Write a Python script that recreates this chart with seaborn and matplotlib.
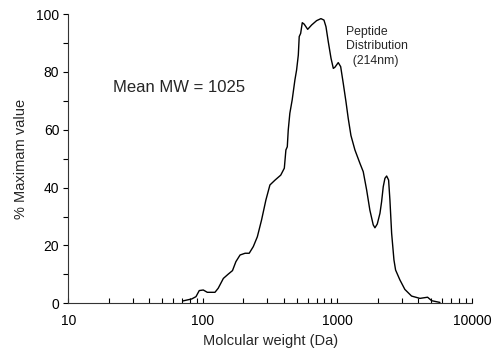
import matplotlib
matplotlib.use("Agg")
import matplotlib.pyplot as plt
import seaborn as sns
import pandas as pd
from matplotlib.ticker import LogLocator, FixedLocator, NullFormatter

mw = [70.8, 82.6, 88.9, 94, 100.7, 107.9, 123, 130, 142, 154.5, 166, 176, 189, 206, 221,
      237, 254, 273, 294, 315, 344, 379, 403, 414, 424, 431, 443, 461, 483, 497, 512, 520,
      533, 548, 566, 601, 643, 700, 754, 794, 822, 855, 896, 932, 958, 1014, 1057, 1105,
      1157, 1203, 1260, 1349, 1469, 1555, 1648, 1742, 1845, 1900, 1977, 2070, 2129, 2190,
      2254, 2321, 2400, 2455, 2528, 2630, 2705, 2911, 3170, 3556, 4102, 4677, 5012, 5781]
pct = [0.8, 1.5, 2.3, 4.4, 4.6, 3.8, 3.8, 5.2, 8.6, 10.1, 11.3, 14.4, 16.7, 17.3, 17.3,
       19.6, 23.0, 28.8, 35.7, 40.9, 42.6, 44.3, 46.7, 53.0, 54.1, 59.9, 65.7, 70.3, 77.2,
       80.6, 85.8, 92.2, 93.3, 97.0, 96.5, 94.7, 96.2, 97.7, 98.4, 97.9, 95.6, 90.4, 84.7,
       81.2, 81.6, 83.2, 81.8, 76.0, 69.7, 63.9, 58.0, 53.0, 48.4, 45.5, 39.2, 32.2, 27.1,
       26.1, 27.4, 31.1, 35.1, 40.3, 43.2, 44.0, 42.6, 35.7, 24.2, 15.0, 11.5, 8.1, 4.8,
       2.5, 1.7, 2.1, 0.9, 0.3]

x_ticks = [10, 100, 1000, 10000]
y_ticks = [0, 20, 40, 60, 80, 100]
x_label = "Molcular weight (Da)"
y_label = "% Maximam value"
mean_text = "Mean MW = 1025"
peak_text = "Peptide\nDistribution\n  (214nm)"

sns.set_style("ticks")
plt.rcParams["font.family"] = ["Liberation Sans", "DejaVu Sans"]

df = pd.DataFrame({"mw": mw, "pct": pct})
fig = plt.figure(figsize=(4.94, 3.51), dpi=100)
ax = fig.add_axes([68.3 / 494, (351 - 303.3) / 351, (472 - 68.3) / 494, (303.3 - 14) / 351])
sns.lineplot(data=df, x="mw", y="pct", ax=ax, color="black", linewidth=1.0,
             solid_joinstyle="round")
ax.set_xscale("log")
ax.set_xlim(10, 10000)
ax.set_ylim(0, 100)
ax.set_xticks(x_ticks)
ax.set_xticklabels([str(t) for t in x_ticks])
ax.xaxis.set_minor_locator(LogLocator(base=10, subs=range(2, 10)))
ax.xaxis.set_minor_formatter(NullFormatter())
ax.set_yticks(y_ticks)
ax.yaxis.set_minor_locator(FixedLocator(range(10, 100, 20)))
ax.tick_params(axis="x", which="both", direction="in", length=3.5, width=0.8,
               labelsize=10, pad=8, colors="black")
ax.tick_params(axis="y", which="both", direction="out", length=3.5, width=0.8,
               labelsize=10, pad=3, colors="black")
for s in ["top", "right"]:
    ax.spines[s].set_visible(False)
for s in ["left", "bottom"]:
    ax.spines[s].set_linewidth(0.8)
    ax.spines[s].set_color("#333333")
ax.set_xlabel(x_label, fontsize=10.5, labelpad=4)
ax.set_ylabel(y_label, fontsize=10.5, labelpad=6)
ax.text(21.5, 74.5, mean_text, fontsize=12, ha="left", va="center")
ax.text(1150, 96, peak_text, fontsize=8.8, ha="left", va="top", linespacing=1.32)

fig.savefig("out.png", dpi=100)
